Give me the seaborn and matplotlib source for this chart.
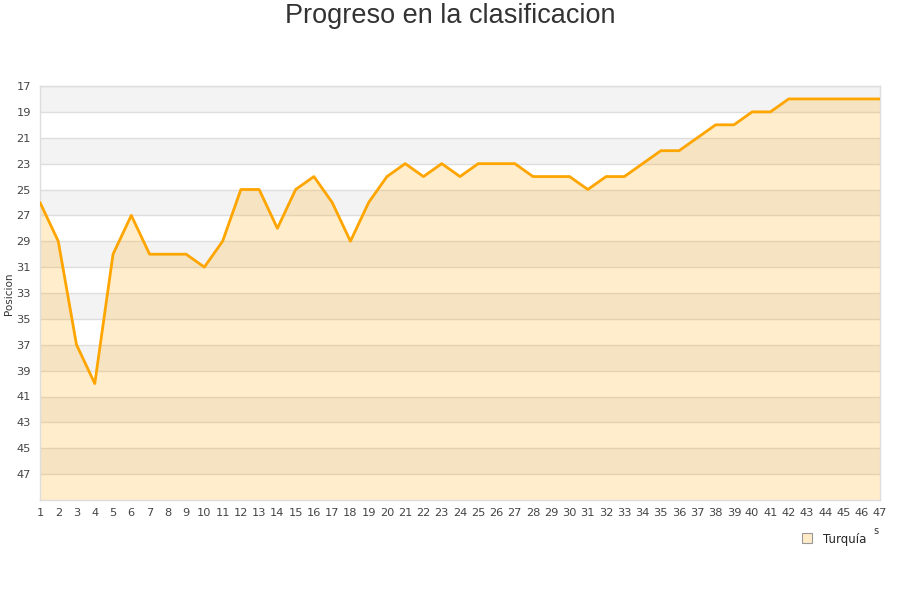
import matplotlib
matplotlib.use("Agg")
import matplotlib.pyplot as plt
import seaborn as sns
import pandas as pd
import numpy as np

jornadas = list(range(1, 48))
posicion = [26, 29, 37, 40, 30, 27, 30, 30, 30, 31, 29, 25, 25, 28, 25, 24, 26, 29, 26, 24,
            23, 24, 23, 24, 23, 23, 23, 24, 24, 24, 25, 24, 24, 23, 22, 22, 21, 20, 20, 19,
            19, 18, 18, 18, 18, 18, 18]
y_ticks = list(range(17, 48, 2))
equipo = "Turquía"
titulo = "Progreso en la clasificacion"

df = pd.DataFrame({"Jornada": jornadas, "Posicion": posicion})

sns.set_theme(style="white")
plt.rcParams['font.family'] = ['DejaVu Sans']

fig = plt.figure(figsize=(9, 6), dpi=100)
ax = fig.add_axes([40/900, 1 - 500/600, 840/900, 414/600])

ymin, ymax = 17, 49
# alternating bands
for lo in range(17, 49, 4):
    ax.axhspan(lo, lo + 2, color="#f3f3f3", zorder=0, lw=0)

for t in y_ticks:
    ax.axhline(t, color="#dedede", lw=1, zorder=0.5)

ax.fill_between(df["Jornada"], df["Posicion"], ymax, color="#ffa500", alpha=0.2, lw=0, zorder=1)
sns.lineplot(data=df, x="Jornada", y="Posicion", ax=ax, color="#ffa500", lw=2, zorder=3)

ax.set_xlim(1, 47)
ax.set_ylim(ymax, ymin)
ax.set_yticks(y_ticks)
ax.set_xticks(jornadas)
ax.tick_params(axis="both", labelsize=8.2, colors="#444444", length=0)
ax.tick_params(axis="x", pad=6)
ax.tick_params(axis="y", pad=6.5)
ax.set_xlabel("")
ax.set_ylabel("Posicion", fontsize=7.5, color="#333333")
ax.yaxis.set_label_coords(-0.031, 0.498)
for s in ax.spines.values():
    s.set_color("#dddddd")
    s.set_linewidth(1)

fig.text(0.5, 1 - 16/600, titulo, ha="center", va="center", fontsize=19.5, color="#333333",
         family=["Liberation Sans", "DejaVu Sans"])
fig.text(876/900, 1 - 531/600, "s", ha="center", va="center", fontsize=7, color="#333333")

handle = plt.Line2D([], [], marker="s", ls="none", markersize=7, markerfacecolor="#ffebc8",
                    markeredgecolor="#999999", markeredgewidth=0.8)
fig.legend([handle], [equipo], loc="center", bbox_to_anchor=(831/900, 1 - 539/600), frameon=False,
           fontsize=8.5, handletextpad=0.4, borderpad=0)

fig.savefig("out.png", dpi=100)
